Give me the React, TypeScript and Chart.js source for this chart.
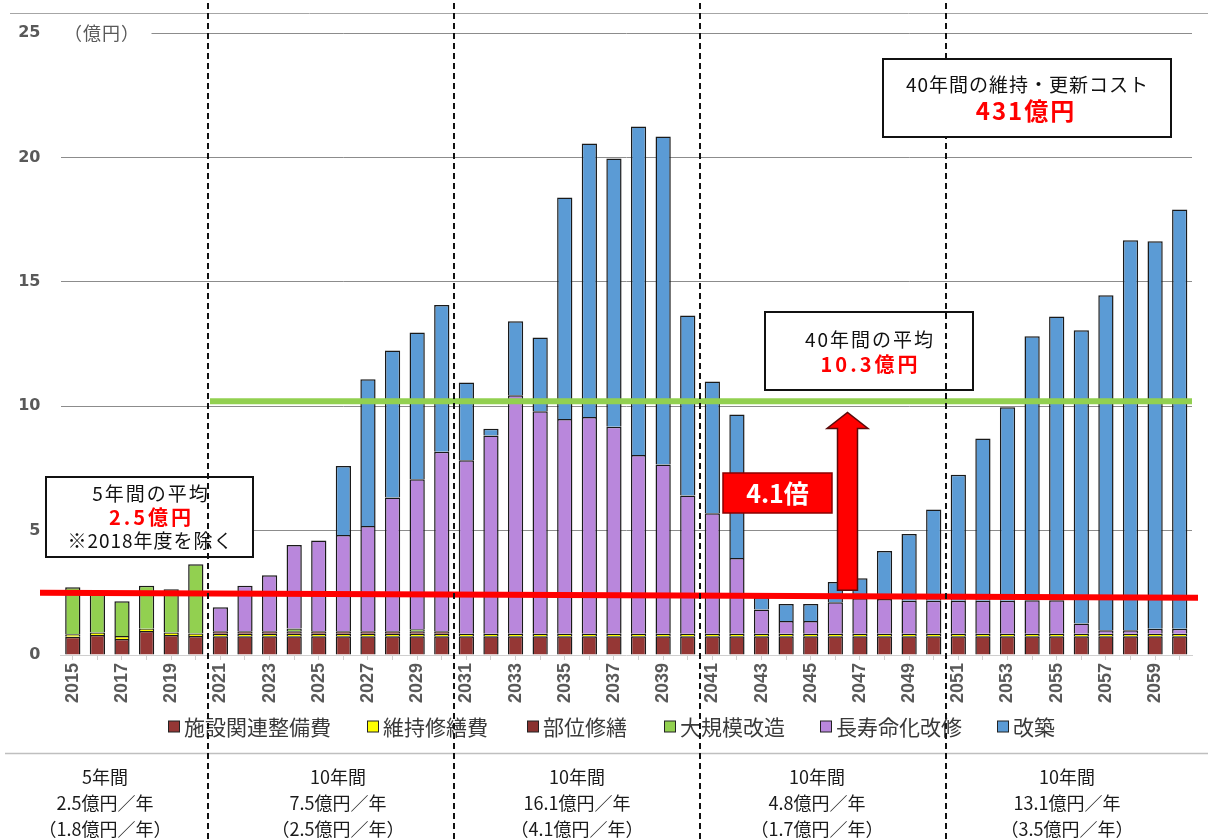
import React, { useEffect, useRef } from 'react';
import { Chart, registerables } from 'chart.js';

Chart.register(...registerables);

// ---------- data ----------
const years = [
  '2015', '2016', '2017', '2018', '2019', '2020', '2021', '2022', '2023', '2024',
  '2025', '2026', '2027', '2028', '2029', '2030', '2031', '2032', '2033', '2034',
  '2035', '2036', '2037', '2038', '2039', '2040', '2041', '2042', '2043', '2044',
  '2045', '2046', '2047', '2048', '2049', '2050', '2051', '2052', '2053', '2054',
  '2055', '2056', '2057', '2058', '2059', '2060',
];

// 施設関連整備費
const facilityCost = [
  0.73, 0.80, 0.64, 0.96, 0.80, 0.76, 0.75, 0.75, 0.75, 0.75,
  0.75, 0.75, 0.75, 0.75, 0.75, 0.75, 0.75, 0.75, 0.75, 0.75,
  0.75, 0.75, 0.75, 0.75, 0.75, 0.75, 0.75, 0.75, 0.75, 0.75,
  0.75, 0.75, 0.75, 0.75, 0.75, 0.75, 0.75, 0.75, 0.75, 0.75,
  0.75, 0.75, 0.75, 0.75, 0.75, 0.75,
];
// 維持修繕費
const maintenanceCost = [
  0.10, 0.10, 0.12, 0.10, 0.10, 0.10, 0.10, 0.10, 0.10, 0.10,
  0.10, 0.10, 0.10, 0.10, 0.10, 0.10, 0.10, 0.10, 0.10, 0.10,
  0.10, 0.10, 0.10, 0.10, 0.10, 0.10, 0.10, 0.10, 0.10, 0.10,
  0.10, 0.10, 0.10, 0.10, 0.10, 0.10, 0.10, 0.10, 0.10, 0.10,
  0.10, 0.10, 0.10, 0.10, 0.10, 0.10,
];
// 部位修繕
const partialRepair = [
  null, null, null, null, null, null, 0.10, 0.10, 0.10, 0.10,
  0.10, 0.10, 0.10, 0.10, 0.10, 0.10, null, null, null, null,
  null, null, null, null, null, null, null, null, null, null,
  null, null, null, null, null, null, null, null, null, null,
  null, null, null, null, null, null,
];
// 大規模改造
const majorRenovation = [
  1.89, 1.65, 1.40, 1.72, 1.74, 2.79, null, null, null, 0.12,
  null, null, null, null, 0.08, null, null, null, null, null,
  null, null, null, null, null, null, null, null, null, null,
  null, null, null, null, null, null, null, null, null, null,
  null, null, null, null, null, null,
];
// 長寿命化改修
const lifeExtension = [
  null, null, null, null, null, null, 0.97, 1.83, 2.26, 3.35,
  3.65, 3.87, 4.23, 5.38, 6.03, 7.22, 6.98, 7.97, 9.59, 8.95,
  8.64, 8.72, 8.32, 7.19, 6.81, 5.56, 4.85, 3.05, 0.98, 0.52,
  0.52, 1.27, 1.43, 1.40, 1.33, 1.33, 1.33, 1.33, 1.33, 1.35,
  1.35, 0.42, 0.14, 0.14, 0.21, 0.21,
];
// 改築
const reconstruction = [
  null, null, null, null, null, null, null, null, null, null,
  null, 2.78, 5.90, 5.91, 5.90, 5.90, 3.12, 0.27, 2.97, 2.96,
  8.90, 10.99, 10.79, 13.20, 13.18, 7.24, 5.29, 5.77, 0.49, 0.68,
  0.68, 0.81, 0.80, 1.93, 2.68, 3.67, 5.06, 6.52, 7.78, 10.61,
  11.41, 11.78, 13.47, 15.68, 15.57, 16.85,
];

const seriesNames = ['施設関連整備費', '維持修繕費', '部位修繕', '大規模改造', '長寿命化改修', '改築'];
const seriesColors = ['#953735', '#FFFF00', '#8A3230', '#92D050', '#B987DC', '#5B9BD5'];

const yTicks = [0, 5, 10, 15, 20, 25];

// reference lines (億円)
const fiveYearAvgStart = 2.5;
const fiveYearAvgEnd = 2.3;
const fortyYearAvgLine = 10.2;
const arrowFrom = 2.6;
const arrowTo = 9.75;

// period summary texts
const periodTitles = ['5年間', '10年間', '10年間', '10年間', '10年間'];
const periodAvg = ['2.5億円／年', '7.5億円／年', '16.1億円／年', '4.8億円／年', '13.1億円／年'];
const periodAvgAlt = ['（1.8億円／年）', '（2.5億円／年）', '（4.1億円／年）', '（1.7億円／年）', '（3.5億円／年）'];
const periodBoundaries = [5, 15, 25, 35]; // index before the dashed line

const JP = '"Noto Sans CJK JP", "Noto Sans", sans-serif';

function drawLine(ctx: CanvasRenderingContext2D, x1: number, y1: number, x2: number, y2: number, color: string, w: number) {
  ctx.beginPath();
  ctx.moveTo(x1, y1);
  ctx.lineTo(x2, y2);
  ctx.strokeStyle = color;
  ctx.lineWidth = w;
  ctx.stroke();
}

function drawText(ctx: any, s: string, x: number, y: number, font: string, color: string, align: CanvasTextAlign = 'center', spacing = 0) {
  ctx.font = font;
  ctx.fillStyle = color;
  ctx.textBaseline = 'middle';
  ctx.letterSpacing = spacing + 'px';
  if (align === 'center' && spacing) {
    const w = ctx.measureText(s).width;
    ctx.textAlign = 'left';
    ctx.fillText(s, x - (w - spacing) / 2, y);
  } else {
    ctx.textAlign = align;
    ctx.fillText(s, x, y);
  }
  ctx.letterSpacing = '0px';
}

function box(ctx: CanvasRenderingContext2D, x: number, y: number, w: number, h: number, fill: string, stroke: string, lw: number) {
  ctx.fillStyle = fill;
  ctx.fillRect(x, y, w, h);
  ctx.strokeStyle = stroke;
  ctx.lineWidth = lw;
  ctx.strokeRect(x, y, w, h);
}

const overlayPlugin = {
  id: 'overlay',
  afterDraw(chart: any) {
    const ctx: CanvasRenderingContext2D = chart.ctx;
    const xs = chart.scales.x;
    const ys = chart.scales.y;
    const area = chart.chartArea;
    ctx.save();

    // top frame line
    drawLine(ctx, 10, 13.5, 1208, 13.5, '#a6a6a6', 1);

    // unit label over the 25 gridline
    ctx.fillStyle = '#ffffff';
    ctx.fillRect(area.left - 6, ys.getPixelForValue(25) - 10, 97, 20);
    drawText(ctx, '（億円）', 64, ys.getPixelForValue(25), `18px ${JP}`, '#595959', 'left', 1);

    // 40-year average line (green)
    const gy = ys.getPixelForValue(fortyYearAvgLine);
    drawLine(ctx, 210, gy, area.right, gy, '#92D050', 6);

    // 5-year average line (red)
    drawLine(ctx, 40, ys.getPixelForValue(fiveYearAvgStart), 1198, ys.getPixelForValue(fiveYearAvgEnd), '#FF0000', 6);

    // arrow
    const ay0 = ys.getPixelForValue(arrowFrom);
    const ay1 = ys.getPixelForValue(arrowTo);
    const acx = 847.5;
    ctx.beginPath();
    ctx.moveTo(acx - 10, ay0);
    ctx.lineTo(acx - 10, ay1 + 16);
    ctx.lineTo(acx - 20.5, ay1 + 16);
    ctx.lineTo(acx, ay1);
    ctx.lineTo(acx + 20.5, ay1 + 16);
    ctx.lineTo(acx + 10, ay1 + 16);
    ctx.lineTo(acx + 10, ay0);
    ctx.closePath();
    ctx.fillStyle = '#FF0000';
    ctx.fill();
    ctx.strokeStyle = '#5a0a0a';
    ctx.lineWidth = 1.5;
    ctx.stroke();

    // 4.1倍 box
    box(ctx, 723, 473, 109, 40, '#FF0000', '#8b0000', 1.5);
    drawText(ctx, '4.1倍', 777.5, 493, `bold 25px ${JP}`, '#ffffff');

    // 5-year average box
    box(ctx, 46, 477, 207, 80, '#ffffff', '#111111', 2);
    drawText(ctx, '5年間の平均', 150, 494, `19px ${JP}`, '#111111', 'center', 2);
    drawText(ctx, '2.5億円', 150, 517, `bold 20px ${JP}`, '#FF0000', 'center', 3);
    drawText(ctx, '※2018年度を除く', 150, 541, `19px ${JP}`, '#111111', 'center', 1);

    // 40-year average box
    box(ctx, 765, 312, 208, 78, '#ffffff', '#111111', 2);
    drawText(ctx, '40年間の平均', 869, 340, `19px ${JP}`, '#111111', 'center', 2);
    drawText(ctx, '10.3億円', 869, 364, `bold 20px ${JP}`, '#FF0000', 'center', 3);

    // legend
    const legendX = [168, 367, 527, 664, 820, 997];
    const ly = 727;
    seriesNames.forEach((name, i) => {
      const bx = legendX[i];
      box(ctx, bx + 0.5, ly - 6, 11, 11, seriesColors[i], '#222222', 1);
      drawText(ctx, name, bx + 16, ly, `21px ${JP}`, '#3a3a3a', 'left');
    });

    // separator line
    drawLine(ctx, 5, 753.5, 1208, 753.5, '#bfbfbf', 1.5);

    // period summaries
    const centers = [105, 338, 577, 817, 1067];
    periodTitles.forEach((t, i) => {
      drawText(ctx, t, centers[i], 777, `18px ${JP}`, '#1a1a1a');
      drawText(ctx, periodAvg[i], centers[i], 803, `18px ${JP}`, '#1a1a1a');
      drawText(ctx, periodAvgAlt[i], centers[i], 829, `18px ${JP}`, '#1a1a1a');
    });

    // dashed period separators
    ctx.setLineDash([6, 4]);
    periodBoundaries.forEach((b) => {
      const px = Math.round((xs.getPixelForValue(b) + xs.getPixelForValue(b + 1)) / 2);
      drawLine(ctx, px, 3, px, 839, '#111111', 2);
    });
    ctx.setLineDash([]);

    // 40-year total cost box (on top of dashed lines)
    box(ctx, 883, 59, 288, 78, '#ffffff', '#111111', 2);
    drawText(ctx, '40年間の維持・更新コスト', 1027, 85, `19px ${JP}`, '#111111', 'center', 1);
    drawText(ctx, '431億円', 1025, 111, `bold 24px ${JP}`, '#FF0000', 'center', 2);

    ctx.restore();
  },
};

const seriesData = [facilityCost, maintenanceCost, partialRepair, majorRenovation, lifeExtension, reconstruction];

export default function App() {
  const ref = useRef<HTMLCanvasElement>(null);
  useEffect(() => {
    const chart = new Chart(ref.current as HTMLCanvasElement, {
      type: 'bar',
      data: {
        labels: years,
        datasets: seriesNames.map((name, i) => ({
          label: name,
          data: seriesData[i] as any,
          backgroundColor: seriesColors[i],
          borderColor: '#1a1a1a',
          borderWidth: 1.5,
          categoryPercentage: 1,
          barPercentage: 0.62,
        })),
      },
      options: {
        animation: false,
        responsive: false,
        layout: { padding: { left: 0, right: 16, top: 33, bottom: 124 } },
        plugins: { legend: { display: false }, tooltip: { enabled: false } },
        scales: {
          x: {
            stacked: true,
            grid: { drawOnChartArea: false, offset: false, color: '#cfcfcf', tickLength: 5 },
            border: { color: '#cfcfcf', width: 1 },
            ticks: {
              autoSkip: false,
              maxRotation: 90,
              minRotation: 90,
              padding: 3,
              color: '#595959',
              font: { family: '"Liberation Sans", Arial, sans-serif', size: 18, weight: 'bold' },
              callback: (_v: any, i: number) => (i % 2 === 0 ? years[i] : ''),
            },
            afterFit: (s: any) => { s.height = 60; },
          } as any,
          y: {
            stacked: true,
            min: 0,
            max: 25,
            afterBuildTicks: (s: any) => { s.ticks = yTicks.map((v) => ({ value: v })); },
            ticks: {
              padding: 20,
              color: '#595959',
              font: { family: '"DejaVu Sans", Verdana, sans-serif', size: 16, weight: 'bold' },
            },
            grid: {
              drawTicks: false,
              color: (c: any) => (c.tick && c.tick.value === 0 ? 'rgba(0,0,0,0)' : '#8c8c8c'),
            },
            border: { display: false },
            afterFit: (s: any) => { s.width = 60.5; },
          } as any,
        },
      },
      plugins: [overlayPlugin],
    });
    return () => chart.destroy();
  }, []);
  return (
    <div style={{ position: 'absolute', left: 0, top: 0, width: 1208, height: 839, background: '#ffffff' }}>
      <canvas ref={ref} width={1208} height={839} style={{ display: 'block' }} />
    </div>
  );
}
